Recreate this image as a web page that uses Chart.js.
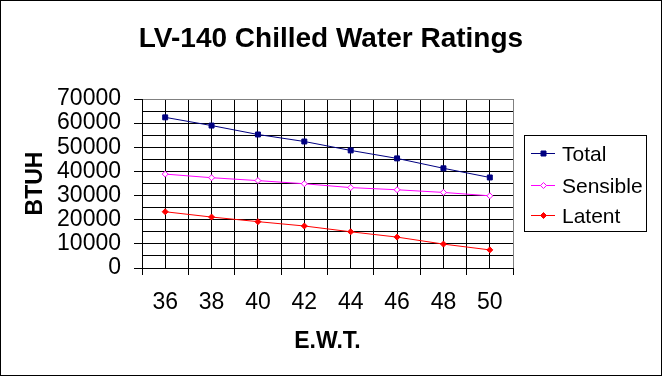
<!DOCTYPE html>
<html>
<head>
<meta charset="utf-8">
<script src="https://cdn.jsdelivr.net/npm/chart.js@4.4.1/dist/chart.umd.min.js"></script>
<style>
  html, body { margin: 0; padding: 0; background: #fff; }
  canvas { display: block; }
</style>
</head>
<body>
<canvas id="ratingsChart" width="662" height="376"></canvas>
<script>
// data
const ewt = [36, 38, 40, 42, 44, 46, 48, 50];
const total = [62400, 59000, 55300, 52400, 48700, 45400, 41300, 37500];
const sensible = [38900, 37400, 36200, 34900, 33300, 32400, 31300, 29900];
const latent = [23300, 21100, 19200, 17400, 15000, 12800, 9900, 7500];

const yMin = 0;
const yMax = 70000;
const yStep = 5000;      // grid every 5000, labels every 10000
const yLabelStep = 10000;

const FONT = "'Liberation Sans', Arial, sans-serif";
const GREY = "#808080";

function toPoints(values) {
  return ewt.map((x, i) => ({ x: x, y: values[i] }));
}

// title, axis titles, legend box and outer frame
const decorPlugin = {
  id: "decor",
  beforeDraw(chart) {
    const ctx = chart.ctx;
    ctx.save();
    ctx.fillStyle = "#fff";
    ctx.fillRect(0, 0, chart.width, chart.height);
    ctx.restore();
  },
  afterDraw(chart) {
    const ctx = chart.ctx;
    const area = chart.chartArea;
    ctx.save();
    ctx.fillStyle = "#000";

    // 1) Title
    ctx.font = "bold 28px " + FONT;
    ctx.textAlign = "center";
    ctx.textBaseline = "alphabetic";
    ctx.fillText("LV-140 Chilled Water Ratings", 331, 47);

    // 2) Axis titles
    ctx.font = "bold 23px " + FONT;
    ctx.fillText("E.W.T.", (area.left + area.right) / 2, 348);
    ctx.save();
    ctx.translate(42, (area.top + area.bottom) / 2);
    ctx.rotate(-Math.PI / 2);
    ctx.fillText("BTUH", 0, 0);
    ctx.restore();

    // 3) Legend
    ctx.strokeStyle = "#000";
    ctx.lineWidth = 1;
    ctx.strokeRect(524.5, 135.5, 122, 96);
    const rows = [153, 185, 215];
    ctx.font = "21px " + FONT;
    ctx.textAlign = "left";
    chart.data.datasets.forEach((ds, i) => {
      const y = rows[i] + 0.5;
      ctx.strokeStyle = ds.borderColor;
      ctx.beginPath();
      ctx.moveTo(531, y);
      ctx.lineTo(555, y);
      ctx.stroke();
      const mx = 543.5;
      ctx.fillStyle = ds.pointBackgroundColor;
      ctx.strokeStyle = ds.borderColor;
      ctx.beginPath();
      if (ds.pointStyle === "rect") {
        ctx.rect(mx - 2.5, y - 2.5, 5, 5);
      } else {
        ctx.moveTo(mx, y - 3);
        ctx.lineTo(mx + 3, y);
        ctx.lineTo(mx, y + 3);
        ctx.lineTo(mx - 3, y);
        ctx.closePath();
      }
      ctx.fill();
      ctx.stroke();
      ctx.fillStyle = "#000";
      ctx.fillText(ds.label, 562, rows[i] + 7.5);
    });

    // 4) Outer frame
    ctx.strokeStyle = "#000";
    ctx.strokeRect(0.5, 0.5, chart.width - 1, chart.height - 1);
    ctx.restore();
  }
};

const chart = new Chart(document.getElementById("ratingsChart"), {
  type: "line",
  data: {
    datasets: [
      {
        label: "Total",
        data: toPoints(total),
        borderColor: "#000080",
        backgroundColor: "#000080",
        pointBackgroundColor: "#000080",
        pointStyle: "rect",
        pointRadius: 3.5,
        borderWidth: 1,
        tension: 0
      },
      {
        label: "Sensible",
        data: toPoints(sensible),
        borderColor: "#ff00ff",
        backgroundColor: "#ffffff",
        pointBackgroundColor: "#ffffff",
        pointStyle: "rectRot",
        pointRadius: 3,
        borderWidth: 1,
        tension: 0
      },
      {
        label: "Latent",
        data: toPoints(latent),
        borderColor: "#ff0000",
        backgroundColor: "#ff0000",
        pointBackgroundColor: "#ff0000",
        pointStyle: "rectRot",
        pointRadius: 3,
        borderWidth: 1,
        tension: 0
      }
    ]
  },
  options: {
    responsive: false,
    animation: false,
    events: [],
    layout: { padding: { left: 0, top: 99, right: 149, bottom: 0 } },
    plugins: {
      legend: { display: false },
      title: { display: false },
      tooltip: { enabled: false }
    },
    scales: {
      x: {
        type: "linear",
        min: ewt[0] - 1,
        max: ewt[ewt.length - 1] + 1,
        afterFit: (scale) => { scale.height = 108; },
        border: { display: true, color: "#000", width: 1 },
        grid: {
          color: (c) => (c.tick && c.tick.value === ewt[ewt.length - 1] + 1 ? GREY : "#000"),
          lineWidth: 1,
          tickLength: 7,
          tickColor: (c) => (c.tick && Math.abs(c.tick.value % 2) === 1 ? "#000" : "rgba(0,0,0,0)")
        },
        ticks: {
          stepSize: 1,
          autoSkip: false,
          maxRotation: 0,
          padding: 14,
          color: "#000",
          font: { family: FONT, size: 23 },
          callback: (v) => (ewt.includes(v) ? String(v) : "")
        }
      },
      y: {
        min: yMin,
        max: yMax,
        afterFit: (scale) => { scale.width = 142; },
        border: { display: true, color: "#000", width: 1 },
        grid: {
          color: (c) => (c.tick && c.tick.value === yMax ? GREY : "#000"),
          lineWidth: 1,
          tickLength: 8,
          tickColor: (c) => (c.tick && c.tick.value % yLabelStep === 0 ? "#000" : "rgba(0,0,0,0)")
        },
        ticks: {
          stepSize: yStep,
          autoSkip: false,
          padding: 13,
          color: "#000",
          font: { family: FONT, size: 23 },
          callback: (v) => (v % yLabelStep === 0 ? String(v) : "")
        }
      }
    }
  },
  plugins: [decorPlugin]
});
</script>
</body>
</html>
